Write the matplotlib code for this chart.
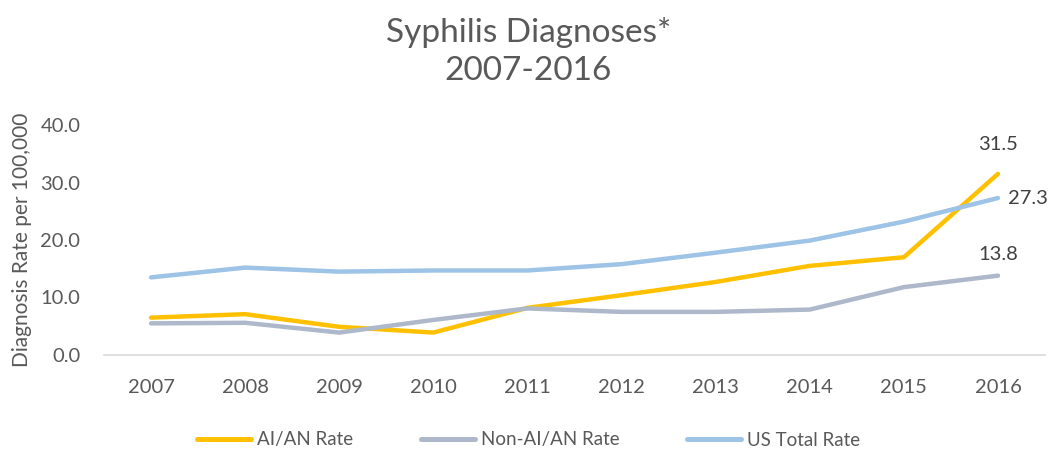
import matplotlib
matplotlib.use("Agg")
import matplotlib.pyplot as plt

years = ["2007", "2008", "2009", "2010", "2011", "2012", "2013", "2014", "2015", "2016"]
aian = [6.5, 7.1, 4.9, 3.9, 8.2, 10.4, 12.7, 15.5, 17.0, 31.5]
non_aian = [5.5, 5.6, 3.9, 6.1, 8.1, 7.5, 7.5, 7.9, 11.8, 13.8]
us_total = [13.5, 15.2, 14.5, 14.7, 14.7, 15.8, 17.8, 19.9, 23.2, 27.3]
yticks = [0, 10, 20, 30, 40]

plt.rcParams['font.family'] = ['Lato', 'DejaVu Sans']
txt = '#595959'

fig = plt.figure(figsize=(10.57, 4.53), dpi=100)
ax = fig.add_axes([104/1057, 98/453, (1045-104)/1057, (355-125)/453])
x = list(range(len(years)))
ax.plot(x, aian, color='#FFC000', lw=3.2, label='AI/AN Rate', solid_capstyle='round')
ax.plot(x, non_aian, color='#ADB9CA', lw=3.2, label='Non-AI/AN Rate', solid_capstyle='round')
ax.plot(x, us_total, color='#9DC3E6', lw=3.2, label='US Total Rate', solid_capstyle='round')

ax.set_xlim(-0.5, len(years) - 0.5)
ax.set_ylim(0, 40)
ax.set_xticks(x)
ax.set_xticklabels(years)
ax.set_yticks(yticks)
ax.set_yticklabels([f"{v:.1f}" for v in yticks])
ax.tick_params(axis='both', length=0, labelsize=14.5, colors=txt)
ax.tick_params(axis='x', pad=17)
ax.tick_params(axis='y', pad=17)
for s in ['top', 'right', 'left']:
    ax.spines[s].set_visible(False)
ax.spines['bottom'].set_color('#D9D9D9')
ax.spines['bottom'].set_linewidth(1.2)
ax.set_ylabel('Diagnosis Rate per 100,000', fontsize=15, color=txt, labelpad=6)

last = len(years) - 1
ax.annotate(f"{aian[-1]:.1f}", (last, aian[-1]), xytext=(0, 15), textcoords='offset points',
            ha='center', va='bottom', fontsize=14.5, color='#404040')
ax.annotate(f"{us_total[-1]:.1f}", (last, us_total[-1]), xytext=(7, 0), textcoords='offset points',
            ha='left', va='center', fontsize=14.5, color='#404040')
ax.annotate(f"{non_aian[-1]:.1f}", (last, non_aian[-1]), xytext=(0, 9), textcoords='offset points',
            ha='center', va='bottom', fontsize=14.5, color='#404040')

fig.text(0.5, 1 - 33/453, 'Syphilis Diagnoses*', ha='center', va='center', fontsize=24, color=txt)
fig.text(0.5, 1 - 71/453, '2007-2016', ha='center', va='center', fontsize=24, color=txt)

leg = fig.legend(loc='center', bbox_to_anchor=(0.5, 1 - 440/453), ncol=3, frameon=False,
                 fontsize=13.5, handlelength=2.9, handletextpad=0.3, columnspacing=3.6)
for line in leg.get_lines():
    line.set_linewidth(3.6)
for t in leg.get_texts():
    t.set_color(txt)

fig.savefig('out.png', dpi=100)
